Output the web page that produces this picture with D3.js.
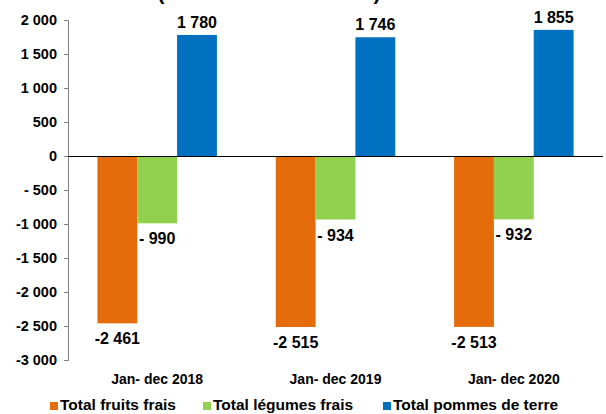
<!DOCTYPE html>
<html lang="fr">
<head>
<meta charset="UTF-8">
<script src="https://d3js.org/d3.v7.min.js"></script>
<style>
  body { margin: 0; background: #fff; font-family: "Liberation Sans", Arial, sans-serif; }
  svg text { font-weight: bold; fill: #000; }
</style>
</head>
<body>
<script>
// data
var years = ["Jan- dec 2018", "Jan- dec 2019", "Jan- dec 2020"];
var series = ["Total fruits frais", "Total légumes frais", "Total pommes de terre"];
var fruits = [-2461, -2515, -2513];
var legumes = [-990, -934, -932];
var pommes = [1780, 1746, 1855];
var yTicks = [2000, 1500, 1000, 500, 0, -500, -1000, -1500, -2000, -2500, -3000];
var colors = ["#E46C0A", "#92D050", "#0070C0"];

var values = [fruits, legumes, pommes];
var width = 606, height = 414;

var svg = d3.select("body").append("svg")
    .attr("width", width)
    .attr("height", height);

// title, cut by the top edge as in the source
svg.append("text")
    .attr("x", 269)
    .attr("y", 0)
    .attr("text-anchor", "middle")
    .style("font-size", "21px")
    .text("(en milliers de tonnes)");

var x0 = d3.scaleBand().domain(years).range([68, 603]).paddingInner(0.33).paddingOuter(0.165);
var x1 = d3.scaleBand().domain(series).range([0, x0.bandwidth()]);
var y = d3.scaleLinear().domain([-3000, 2000]).range([360, 20]);

var fmt = function(v) {
  var s = d3.format(",")(Math.abs(v)).replace(/,/g, " ");
  if (v >= 0) return s;
  return Math.abs(v) < 1000 ? "- " + s : "-" + s;
};

// y axis
var yAxis = d3.axisLeft(y).tickValues(yTicks).tickSize(4).tickFormat(fmt);
var gy = svg.append("g")
    .attr("transform", "translate(68,0)")
    .call(yAxis);
gy.select(".domain").attr("stroke", "#808080").attr("d", "M-4,20.5H0.5V360.5H-4");
gy.selectAll(".tick line").attr("stroke", "#808080");
gy.selectAll(".tick text").style("font-size", "14.5px").attr("x", -11);

// bars
var rows = [];
years.forEach(function(yr, i) {
  series.forEach(function(s, j) {
    rows.push({year: yr, serie: s, value: values[j][i], idx: j});
  });
});

svg.selectAll(".bar")
    .data(rows)
  .enter().append("rect")
    .attr("class", "bar")
    .attr("x", function(d) { return x0(d.year) + x1(d.serie); })
    .attr("width", x1.bandwidth())
    .attr("y", function(d) { return y(Math.max(0, d.value)); })
    .attr("height", function(d) { return Math.abs(y(d.value) - y(0)); })
    .attr("fill", function(d) { return colors[d.idx]; });

// zero line
svg.append("line")
    .attr("x1", 68).attr("x2", 603)
    .attr("y1", y(0) + 0.5).attr("y2", y(0) + 0.5)
    .attr("stroke", "#000");

// value labels
svg.selectAll(".lbl")
    .data(rows)
  .enter().append("text")
    .attr("class", "lbl")
    .attr("x", function(d) { return x0(d.year) + x1(d.serie) + x1.bandwidth() / 2; })
    .attr("y", function(d) { return d.value >= 0 ? y(d.value) - 7 : y(d.value) + 21; })
    .attr("text-anchor", "middle")
    .style("font-size", "16px")
    .text(function(d) { return fmt(d.value); });

// category labels
svg.selectAll(".cat")
    .data(years)
  .enter().append("text")
    .attr("class", "cat")
    .attr("x", function(d) { return x0(d) + x0.bandwidth() / 2; })
    .attr("y", 384)
    .attr("text-anchor", "middle")
    .style("font-size", "14px")
    .text(function(d) { return d; });

// legend
var legX = [50, 203, 383];
var leg = svg.selectAll(".legend")
    .data(series)
  .enter().append("g")
    .attr("class", "legend")
    .attr("transform", function(d, i) { return "translate(" + legX[i] + ",410)"; });
leg.append("rect")
    .attr("x", 0).attr("y", -8)
    .attr("width", 8).attr("height", 8)
    .attr("fill", function(d, i) { return colors[i]; });
leg.append("text")
    .attr("x", 10).attr("y", 0)
    .style("font-size", "15.5px")
    .text(function(d) { return d; });
</script>
</body>
</html>
